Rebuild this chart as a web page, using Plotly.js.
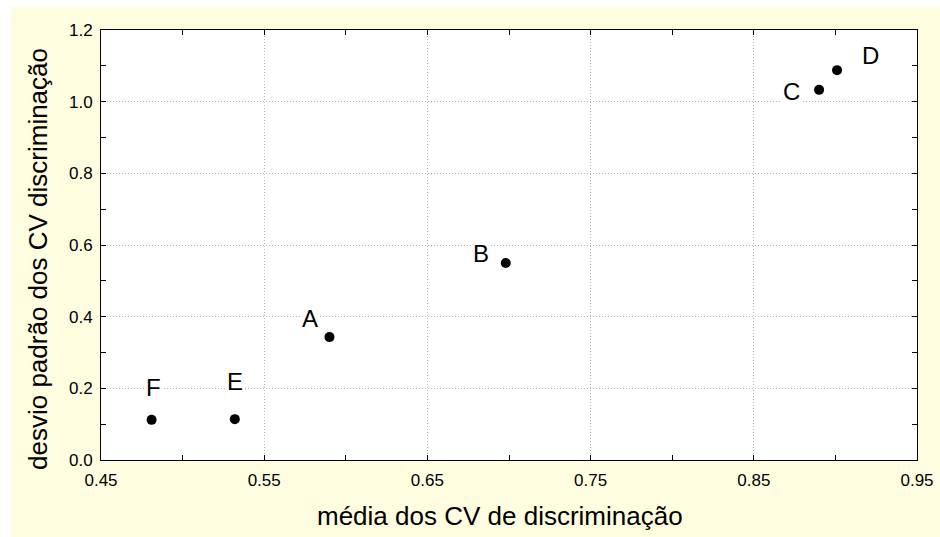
<!DOCTYPE html>
<html>
<head>
<meta charset="utf-8">
<script src="https://cdn.plot.ly/plotly-3.0.1.min.js"></script>
<style>html,body{margin:0;padding:0;background:#fff;}#chart{width:940px;height:537px;}</style>
</head>
<body>
<div id="chart"></div>
<script>
// Data
const labels = ["A", "B", "C", "D", "E", "F"];
const meanCV = [0.590, 0.698, 0.890, 0.901, 0.532, 0.481];
const sdCV   = [0.343, 0.550, 1.033, 1.088, 0.114, 0.112];
// label anchor positions (data coords)
const labelX = [0.578, 0.6828, 0.8731, 0.9212, 0.5321, 0.4819];
const labelY = [0.396, 0.575, 1.0285, 1.1275, 0.2177, 0.2037];

const xTitle = "média dos CV de discriminação";
const yTitle = "desvio padrão dos CV discriminação";

const FONT = "Liberation Sans, Arial, Helvetica, sans-serif";

const trace = {
  x: meanCV, y: sdCV, text: labels,
  type: "scatter", mode: "markers",
  marker: {color: "#000", size: 10},
  hoverinfo: "text+x+y", showlegend: false
};

const annotations = labels.map((t, i) => ({
  x: labelX[i], y: labelY[i], xref: "x", yref: "y",
  text: t, showarrow: false,
  font: {family: FONT, size: 24, color: "#000"},
  bgcolor: "#ffffff", borderpad: 1
}));

// axis titles (placed as paper annotations to match the reference offsets)
annotations.push({
  text: xTitle, xref: "paper", yref: "paper",
  x: (500 - 101) / 816, y: (460 - 516) / 430,
  xanchor: "center", yanchor: "middle", showarrow: false,
  font: {family: FONT, size: 26, color: "#000"}
});
annotations.push({
  text: yTitle, xref: "paper", yref: "paper", textangle: -90,
  x: (38 - 101) / 816, y: (460 - 259) / 430,
  xanchor: "center", yanchor: "middle", showarrow: false,
  font: {family: FONT, size: 26, color: "#000"}
});

const axisCommon = {
  showline: true, linecolor: "#000", linewidth: 1, mirror: "allticks",
  ticks: "inside", ticklen: 5, tickcolor: "#000", tickwidth: 1,
  showgrid: true, gridcolor: "#b4b4b4", gridwidth: 1, griddash: "1px,2px",
  zeroline: false,
  tickfont: {family: FONT, size: 17, color: "#000"},
  minor: {ticks: "inside", ticklen: 5, tickcolor: "#000", showgrid: false}
};

const layout = {
  width: 940, height: 537,
  margin: {l: 101, r: 23, t: 30, b: 77},
  paper_bgcolor: "#ffffff", plot_bgcolor: "#ffffff",
  font: {family: FONT, color: "#000"},
  xaxis: Object.assign({}, axisCommon, {
    range: [0.45, 0.95], tick0: 0.45, dtick: 0.1, tickformat: ".2f",
    ticklabelstandoff: 5,
    minor: Object.assign({}, axisCommon.minor, {dtick: 0.05, tick0: 0.45})
  }),
  yaxis: Object.assign({}, axisCommon, {
    range: [0, 1.2], tick0: 0, dtick: 0.2, tickformat: ".1f",
    ticklabelstandoff: 4,
    minor: Object.assign({}, axisCommon.minor, {dtick: 0.1, tick0: 0})
  }),
  shapes: [
    {type: "rect", xref: "paper", yref: "paper", layer: "below",
     x0: (11 - 101) / 816, x1: (940 - 101) / 816,
     y0: (460 - 537) / 430, y1: (460 - 7) / 430,
     fillcolor: "#fffde0", line: {width: 0}},
    {type: "rect", xref: "paper", yref: "paper", layer: "below",
     x0: 0, x1: 1, y0: 0, y1: 1,
     fillcolor: "#ffffff", line: {width: 0}}
  ],
  annotations: annotations
};

Plotly.newPlot("chart", [trace], layout, {displayModeBar: false, staticPlot: true});
</script>
</body>
</html>
